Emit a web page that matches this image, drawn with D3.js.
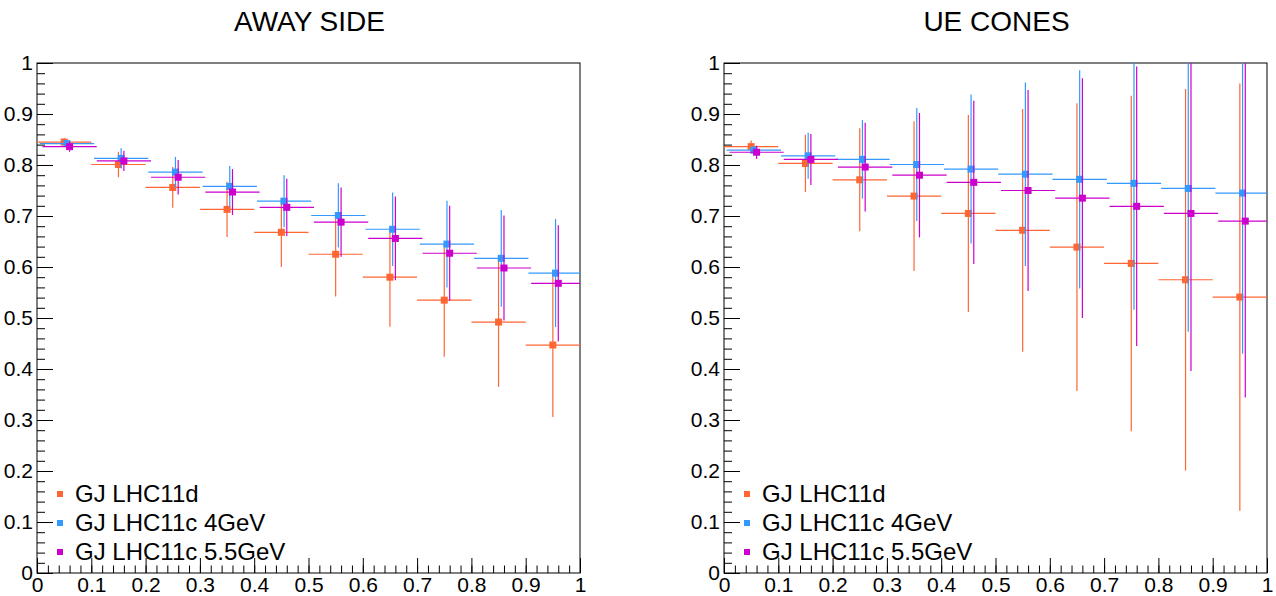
<!DOCTYPE html>
<html>
<head>
<meta charset="utf-8">
<script src="https://cdn.jsdelivr.net/npm/d3@7"></script>
<style>
  body { margin: 0; background: #fff; }
  text { font-family: "Liberation Sans", Arial, sans-serif; }
</style>
</head>
<body>
<div class="canvas"></div>
<script>
// bin centres and axis ticks
const binCentres = [0.05, 0.15, 0.25, 0.35, 0.45, 0.55, 0.65, 0.75, 0.85, 0.95]
const binHalfWidth = 0.05
const majorTicks = [0, 0.1, 0.2, 0.3, 0.4, 0.5, 0.6, 0.7, 0.8, 0.9, 1]
const minorTicks = d3.range(0, 51).map(i => i / 50)

const seriesNames = ["GJ LHC11d", "GJ LHC11c 4GeV", "GJ LHC11c 5.5GeV"]
const seriesColors = ["#ff6633", "#3399ff", "#cc00cc"]
const seriesShift = [0, 0.005, 0.01]

// AWAY SIDE
const awayLHC11d = [0.845, 0.801, 0.756, 0.713, 0.668, 0.625, 0.580, 0.535, 0.492, 0.447]
const awayLHC11dErr = [0.008, 0.025, 0.040, 0.054, 0.068, 0.083, 0.097, 0.111, 0.127, 0.141]
const awayLHC11c4 = [0.842, 0.813, 0.786, 0.758, 0.729, 0.701, 0.674, 0.645, 0.617, 0.588]
const awayLHC11c4Err = [0.006, 0.020, 0.030, 0.040, 0.051, 0.063, 0.072, 0.085, 0.095, 0.106]
const awayLHC11c55 = [0.836, 0.808, 0.776, 0.747, 0.717, 0.688, 0.656, 0.627, 0.598, 0.568]
const awayLHC11c55Err = [0.010, 0.020, 0.034, 0.045, 0.056, 0.068, 0.082, 0.093, 0.103, 0.114]

// UE CONES
const ueLHC11d = [0.836, 0.803, 0.771, 0.739, 0.705, 0.672, 0.639, 0.607, 0.575, 0.541]
const ueLHC11dErr = [0.012, 0.056, 0.101, 0.147, 0.193, 0.238, 0.282, 0.329, 0.374, 0.419]
const ueLHC11c4 = [0.829, 0.818, 0.811, 0.801, 0.792, 0.782, 0.772, 0.764, 0.754, 0.745]
const ueLHC11c4Err = [0.008, 0.045, 0.077, 0.111, 0.146, 0.180, 0.214, 0.248, 0.281, 0.315]
const ueLHC11c55 = [0.825, 0.811, 0.796, 0.780, 0.766, 0.750, 0.735, 0.719, 0.705, 0.690]
const ueLHC11c55Err = [0.013, 0.050, 0.087, 0.122, 0.160, 0.197, 0.235, 0.274, 0.309, 0.346]

const width = 1276
const height = 596
const svg = d3.select(".canvas").append("svg")
    .attr("width", width)
    .attr("height", height)

const plotW = 543
const plotH = 510
const plotTop = 63

function drawPanel(left, title, values, errors, id) {
    const x = d3.scaleLinear().domain([0, 1]).range([0, plotW])
    const y = d3.scaleLinear().domain([0, 1]).range([plotH, 0])

    const g = svg.append("g").attr("transform", `translate(${left},${plotTop})`)

    svg.append("text")
        .attr("x", left + plotW / 2 + 1)
        .attr("y", 31)
        .attr("text-anchor", "middle")
        .style("font-size", "28px")
        .text(title)

    g.append("clipPath").attr("id", "clip" + id)
        .append("rect").attr("width", plotW).attr("height", plotH)

    // minor ticks
    g.append("g")
        .call(d3.axisLeft(y).tickValues(minorTicks).tickSize(-8).tickSizeOuter(0).tickFormat(""))
        .call(a => a.select(".domain").remove())
    g.append("g")
        .attr("transform", `translate(0,${plotH})`)
        .call(d3.axisBottom(x).tickValues(minorTicks).tickSize(-7.5).tickSizeOuter(0).tickFormat(""))
        .call(a => a.select(".domain").remove())

    // major ticks + labels
    const fmt = d => String(d)
    g.append("g")
        .call(d3.axisLeft(y).tickValues(majorTicks).tickSize(-16).tickSizeOuter(0).tickPadding(4).tickFormat(fmt))
        .call(a => a.select(".domain").remove())
        .call(a => a.selectAll("text").style("font-size", "21px").attr("fill", "#000"))
    g.append("g")
        .attr("transform", `translate(0,${plotH})`)
        .call(d3.axisBottom(x).tickValues(majorTicks).tickSize(-15).tickSizeOuter(0).tickPadding(4).tickFormat(fmt))
        .call(a => a.select(".domain").remove())
        .call(a => a.selectAll("text").style("font-size", "21px").attr("fill", "#000"))

    g.selectAll(".tick line").attr("stroke", "#000")

    // frame
    g.append("rect")
        .attr("width", plotW)
        .attr("height", plotH)
        .attr("fill", "none")
        .attr("stroke", "#000")
        .attr("stroke-width", 1)

    const data = g.append("g").attr("clip-path", `url(#clip${id})`)

    values.forEach(function (vals, s) {
        const pts = vals.map((v, i) => ({ x: binCentres[i] + seriesShift[s], y: v, e: errors[s][i] }))
        const sg = data.append("g")
        sg.selectAll(".ex").data(pts).enter().append("line")
            .attr("x1", d => x(d.x - binHalfWidth)).attr("x2", d => x(d.x + binHalfWidth))
            .attr("y1", d => y(d.y)).attr("y2", d => y(d.y))
            .attr("stroke", seriesColors[s]).attr("stroke-width", 1.2)
        sg.selectAll(".ey").data(pts).enter().append("line")
            .attr("x1", d => x(d.x)).attr("x2", d => x(d.x))
            .attr("y1", d => y(d.y - d.e)).attr("y2", d => y(d.y + d.e))
            .attr("stroke", seriesColors[s]).attr("stroke-width", 1.2)
        sg.selectAll("rect").data(pts).enter().append("rect")
            .attr("x", d => x(d.x) - 3.5).attr("y", d => y(d.y) - 3.5)
            .attr("width", 7).attr("height", 7)
            .attr("fill", seriesColors[s])
    })

    // legend
    const leg = g.append("g")
    seriesNames.forEach(function (name, s) {
        const ly = 431 + s * 29
        leg.append("rect")
            .attr("x", 20).attr("y", ly - 3).attr("width", 6).attr("height", 6)
            .attr("fill", seriesColors[s])
        leg.append("text")
            .attr("x", 38).attr("y", ly + 8)
            .style("font-size", "24px")
            .text(name)
    })
}

drawPanel(37, "AWAY SIDE", [awayLHC11d, awayLHC11c4, awayLHC11c55], [awayLHC11dErr, awayLHC11c4Err, awayLHC11c55Err], 1)
drawPanel(724, "UE CONES", [ueLHC11d, ueLHC11c4, ueLHC11c55], [ueLHC11dErr, ueLHC11c4Err, ueLHC11c55Err], 2)
</script>
</body>
</html>
